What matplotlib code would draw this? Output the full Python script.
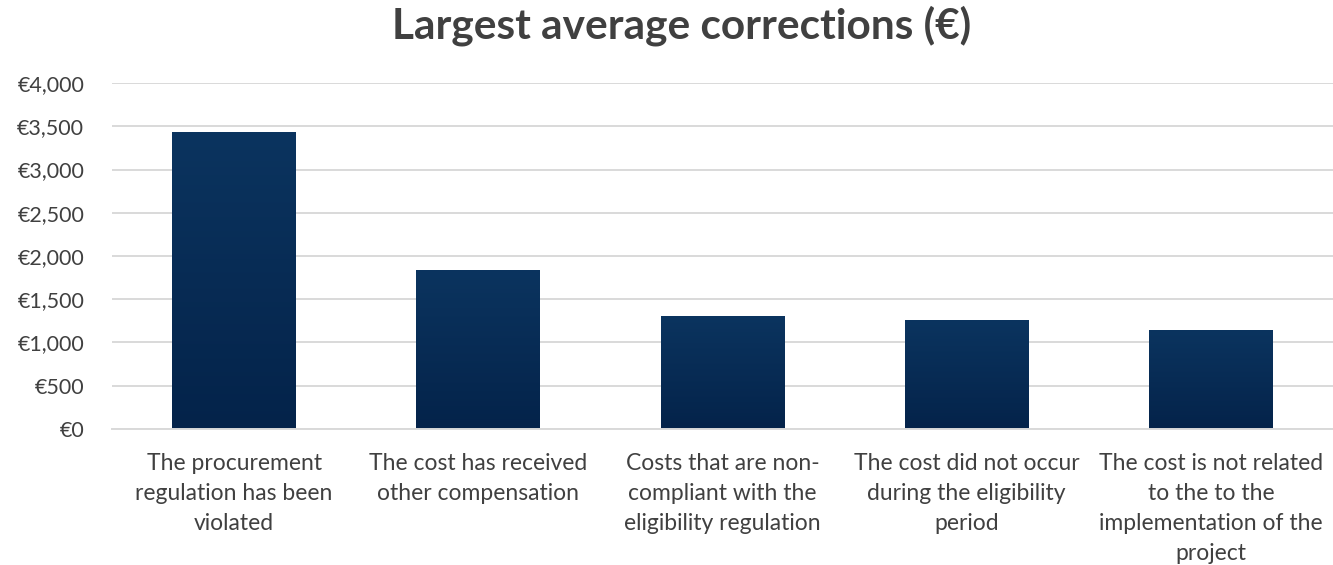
import matplotlib
matplotlib.use("Agg")
import matplotlib.pyplot as plt
import numpy as np
from matplotlib.colors import LinearSegmentedColormap
from matplotlib.ticker import FuncFormatter

categories = [
    "The procurement\nregulation has been\nviolated",
    "The cost has received\nother compensation",
    "Costs that are non-\ncompliant with the\neligibility regulation",
    "The cost did not occur\nduring the eligibility\nperiod",
    "The cost is not related\nto the to the\nimplementation of the\nproject",
]
corrections = [3430, 1830, 1305, 1260, 1135]
y_ticks = [0, 500, 1000, 1500, 2000, 2500, 3000, 3500, 4000]

plt.rcParams["font.family"] = ["Lato", "DejaVu Sans"]
text_color = "#404040"

fig = plt.figure(figsize=(13.33, 5.65), dpi=100)
ax = fig.add_axes([0.084, 0.241, 0.916, 0.612])

x = np.arange(len(categories))
bars = ax.bar(x, corrections, width=0.507, color="none", zorder=2)

# vertical gradient inside every bar, lighter navy at the top
grad = LinearSegmentedColormap.from_list("navy", ["#04234a", "#0b345f"])
g = np.linspace(0, 1, 256).reshape(-1, 1)
for b in bars:
    x0, w, h = b.get_x(), b.get_width(), b.get_height()
    ax.imshow(g, cmap=grad, origin="lower", aspect="auto",
              extent=(x0, x0 + w, 0, h), zorder=2)

ax.set_xlim(-0.5, len(categories) - 0.5)
ax.set_ylim(0, 4000)
ax.set_yticks(y_ticks)
ax.yaxis.set_major_formatter(FuncFormatter(lambda v, _: f"€{v:,.0f}"))
ax.set_xticks(x)
ax.set_xticklabels(categories, fontsize=16.5, color=text_color, linespacing=1.52)
ax.tick_params(axis="y", labelsize=15.5, colors=text_color, length=0, pad=20)
ax.tick_params(axis="x", length=0, pad=17.5)

ax.grid(axis="y", color="#d9d9d9", linewidth=1.4, zorder=0)
ax.set_axisbelow(True)
for side in ["top", "right", "left"]:
    ax.spines[side].set_visible(False)
ax.spines["bottom"].set_color("#d9d9d9")
ax.spines["bottom"].set_linewidth(1.4)

fig.suptitle("Largest average corrections (€)", fontsize=30.5, fontweight="bold",
             color=text_color, x=0.511, y=0.99)

fig.savefig("out.png", dpi=100)
